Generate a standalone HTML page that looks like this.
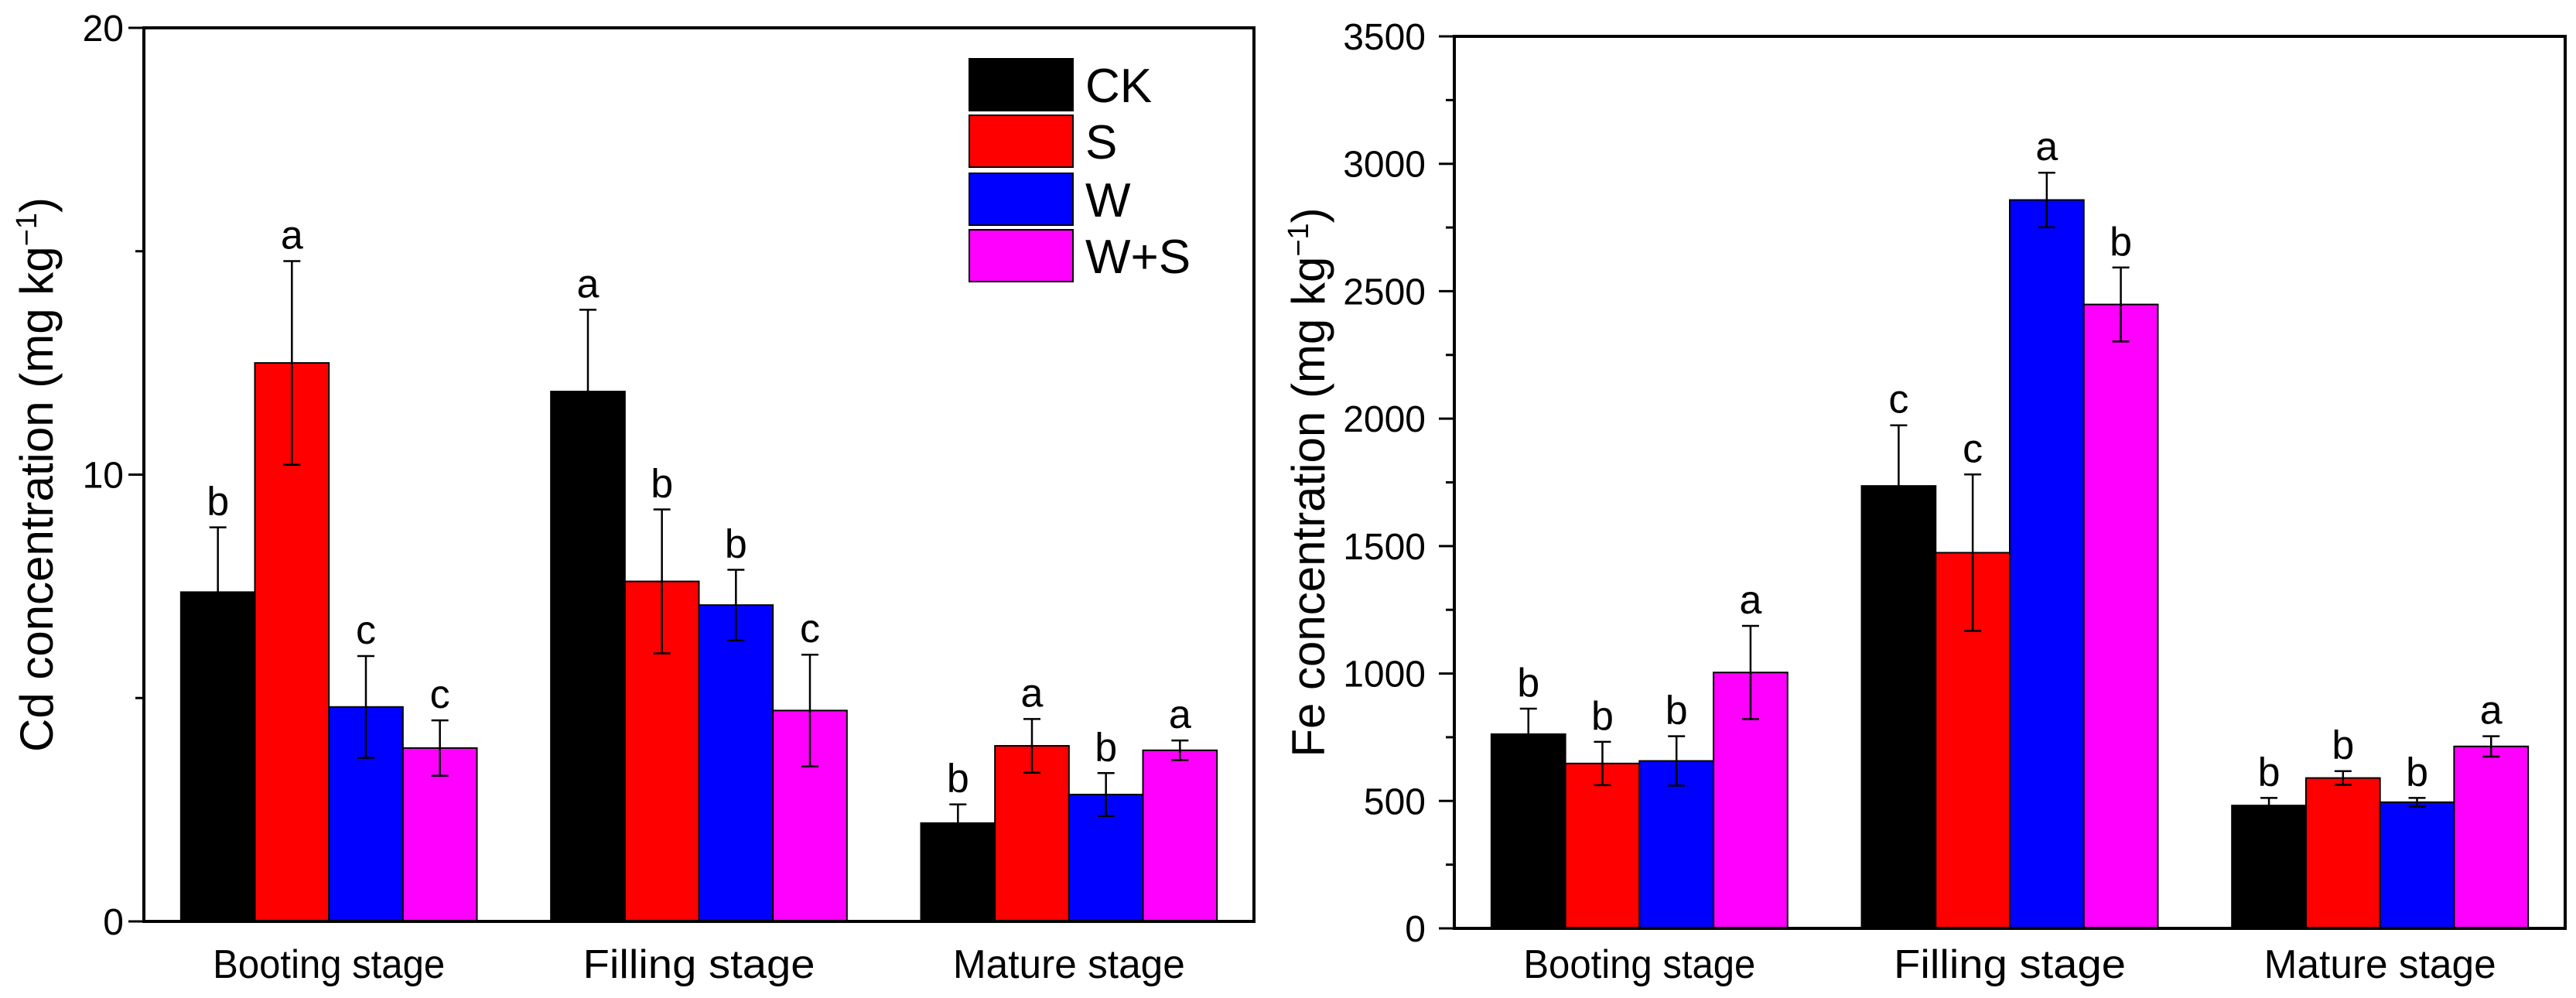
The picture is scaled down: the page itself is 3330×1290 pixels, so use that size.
<!DOCTYPE html>
<html><head><meta charset="utf-8">
<style>
html,body{margin:0;padding:0;background:#fff;}
svg{display:block;font-family:"Liberation Sans",sans-serif;}
</style></head>
<body>
<svg id="fig" width="3330" height="1290" viewBox="0 0 3330 1290" xmlns="http://www.w3.org/2000/svg">
<g id="left"></g>
<g id="right"></g>
<g id="legend"></g>
</svg>
<script>
const categories = ["Booting stage", "Filling stage", "Mature stage"];
const seriesNames = ["CK", "S", "W", "W+S"];
const seriesColors = ["#000000", "#ff0000", "#0000ff", "#ff00ff"];
// Cd (mg/kg)
const cdCK = [7.37, 11.86, 2.2];
const cdS = [12.5, 7.61, 3.93];
const cdW = [4.8, 7.08, 2.84];
const cdWS = [3.88, 4.72, 3.83];
const cdErrCK = [1.45, 1.83, 0.42];
const cdErrS = [2.28, 1.61, 0.6];
const cdErrW = [1.14, 0.79, 0.48];
const cdErrWS = [0.62, 1.25, 0.22];
const cdLetters = [["b","a","c","c"],["a","b","b","c"],["b","a","b","a"]];
const cdTicks = [0, 10, 20];
const cdMinor = [5, 15];
// Fe (mg/kg)
const feCK = [762, 1736, 482];
const feS = [647, 1474, 590];
const feW = [657, 2858, 495];
const feWS = [1004, 2448, 714];
const feErrCK = [100, 238, 30];
const feErrS = [85, 307, 27];
const feErrW = [97, 107, 17];
const feErrWS = [183, 145, 40];
const feLetters = [["b","b","b","a"],["c","c","a","b"],["b","b","b","a"]];
const feTicks = [0, 500, 1000, 1500, 2000, 2500, 3000, 3500];
const feMinor = [250, 750, 1250, 1750, 2250, 2750, 3250];

const NS = "http://www.w3.org/2000/svg";
function mk(parent, tag, attrs, text){
  const e = document.createElementNS(NS, tag);
  for (const k in attrs) e.setAttribute(k, attrs[k]);
  if (text !== undefined) e.textContent = text;
  parent.appendChild(e);
  return e;
}

function drawChart(g, cfg){
  const {x0, x1, y0, y1, ymax, vals, errs, letters, ticks, minor, title, titleX, tickRight, key} = cfg;
  const ys = v => y0 - (v / ymax) * (y0 - y1);
  const unit = (x1 - x0) / 3;
  const xc = i => x0 + unit * (i + 0.5);
  const bw = unit * 0.8 / 4;
  for (let i = 0; i < categories.length; i++){
    for (let s = 0; s < 4; s++){
      const v = vals[s][i], e = errs[s][i];
      const bx = xc(i) - 2 * bw + s * bw;
      const r = mk(g, "rect", {x: bx, y: ys(v), width: bw, height: y0 - ys(v), fill: seriesColors[s], stroke: "#000", "stroke-width": 2});
      
      
      const cx = bx + bw / 2;
      const eg = mk(g, "path", {d: `M${cx},${ys(v+e)}V${ys(v-e)}M${cx-11},${ys(v+e)}H${cx+11}M${cx-11},${ys(v-e)}H${cx+11}`, stroke: "#000", "stroke-width": 2.5, fill: "none"});
      
      
      const t = mk(g, "text", {x: cx, y: ys(v+e) - 16, "font-size": 52, "text-anchor": "middle"}, letters[i][s]);
      
      
    }
    const cl = mk(g, "text", {x: xc(i), y: 1264, "font-size": 52, "text-anchor": "middle", textLength: 300, lengthAdjust: "spacingAndGlyphs"}, categories[i]);
    
    
  }
  ticks.forEach(v => {
    const tk = mk(g, "line", {x1: x0 - 20, x2: x0, y1: ys(v), y2: ys(v), stroke: "#000", "stroke-width": 3});
    
    
    const tl = mk(g, "text", {x: tickRight, y: ys(v) + 17, "font-size": 48, "text-anchor": "end"}, String(v));
    
    
  });
  minor.forEach(v => {
    const tk = mk(g, "line", {x1: x0 - 11, x2: x0, y1: ys(v), y2: ys(v), stroke: "#000", "stroke-width": 3});
    
    
  });
  const fr = mk(g, "rect", {x: x0, y: y1, width: x1 - x0, height: y0 - y1, fill: "none", stroke: "#000", "stroke-width": 4});
  
  
  const cy = (y0 + y1) / 2;
  const tt = mk(g, "text", {x: titleX, y: cy, "font-size": 60, "text-anchor": "middle", transform: `rotate(-90 ${titleX} ${cy})`});
  
  
  mk(tt, "tspan", {}, title + " (mg kg");
  mk(tt, "tspan", {"baseline-shift": "super", "font-size": 38}, "\u22121");
  mk(tt, "tspan", {}, ")");
}

drawChart(document.getElementById("left"), {
  key: "cd", x0: 186, x1: 1621, y0: 1191, y1: 36, ymax: 20,
  vals: [cdCK, cdS, cdW, cdWS], errs: [cdErrCK, cdErrS, cdErrW, cdErrWS],
  letters: cdLetters, ticks: cdTicks, minor: cdMinor,
  title: "Cd concentration", titleX: 68, tickRight: 160
});
drawChart(document.getElementById("right"), {
  key: "fe", x0: 1880, x1: 3316, y0: 1200, y1: 47, ymax: 3500,
  vals: [feCK, feS, feW, feWS], errs: [feErrCK, feErrS, feErrW, feErrWS],
  letters: feLetters, ticks: feTicks, minor: feMinor,
  title: "Fe concentration", titleX: 1712, tickRight: 1843
});

const lg = document.getElementById("legend");
const rowsY = [76, 149, 224, 297];
seriesNames.forEach((n, i) => {
  const r = mk(lg, "rect", {x: 1253, y: rowsY[i], width: 134, height: 67, fill: seriesColors[i], stroke: "#000", "stroke-width": 2});
  
  
  const t = mk(lg, "text", {x: 1403, y: rowsY[i] + 56, "font-size": 62}, n);
  
  
});
</script>
</body></html>
